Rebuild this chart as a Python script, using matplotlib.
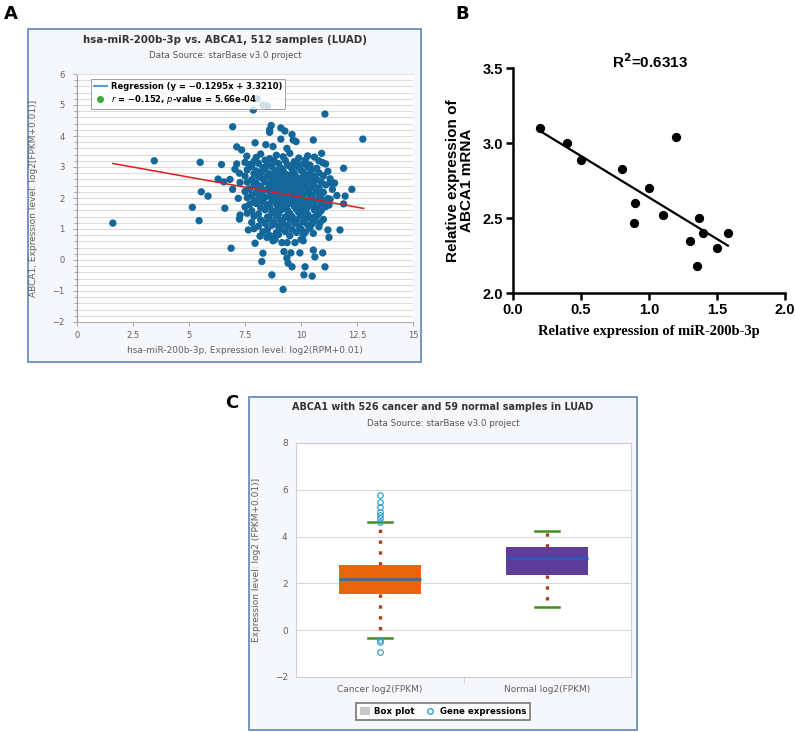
import numpy as np
import matplotlib
matplotlib.use("Agg")
import matplotlib.pyplot as plt
from matplotlib.lines import Line2D
from matplotlib.patches import Rectangle, Patch
from matplotlib.ticker import MultipleLocator, FormatStrFormatter

# ---- panel A: starBase scatter ----
a_points = [
    # sparse / outlying samples
    (1.6, 1.19), (3.45, 3.2), (5.5, 3.15), (5.15, 1.7), (5.55, 2.2), (5.85, 2.06),
    (5.45, 1.27), (6.45, 3.08), (6.3, 2.61), (6.55, 2.52), (6.6, 1.67), (6.88, 0.38),
    (6.95, 4.3), (6.83, 2.6), (6.95, 2.28), (7.13, 3.65), (7.13, 3.1), (7.25, 2.8),
    (7.05, 2.93), (7.28, 2.5), (7.2, 1.99), (7.28, 1.45), (7.25, 1.32), (7.35, 3.55),
    (7.5, 3.15), (7.58, 3.35), (7.65, 0.97), (7.87, 4.84), (8.05, 5.2), (8.3, 5.0),
    (8.5, 4.97), (7.95, 3.78), (8.43, 3.72), (8.6, 4.12), (8.67, 4.34), (8.6, 4.2),
    (8.75, 3.66), (9.1, 4.26), (9.28, 4.16), (9.1, 3.9), (9.6, 4.05), (9.65, 3.87),
    (9.78, 3.82), (9.37, 3.6), (10.55, 3.87), (11.07, 4.71), (12.76, 3.9), (10.92, 3.44),
    (10.97, 3.14), (11.1, 3.1), (11.9, 2.96), (12.27, 2.28), (11.97, 2.06), (11.9, 1.81),
    (11.3, 1.96), (11.25, 1.77), (11.3, 2.49), (11.74, 0.97), (11.2, 0.97), (11.25, 0.73),
    (11.07, -0.22), (10.97, 0.23), (10.55, 0.32), (10.62, 0.1), (10.5, -0.52), (10.13, -0.48),
    (10.18, -0.22), (9.95, 0.23), (9.6, -0.22), (9.55, 0.23), (9.37, 0.06), (9.42, -0.1),
    (9.24, 0.27), (9.2, -0.95), (8.7, -0.48), (8.25, -0.05), (8.3, 0.22), (7.95, 0.54),
    (8.17, 0.77), (8.48, 0.73), (8.7, 0.73), (8.75, 0.62), (8.84, 0.66), (9.15, 0.56),
    (9.38, 0.56), (9.73, 0.56), (10.0, 0.66), (10.1, 0.62), (10.55, 0.86), (10.85, 1.2),
    (10.62, 1.39), (10.77, 1.51),
    # dense core of the cloud
    (8.2, 3.42), (8.9, 3.38), (9.5, 3.44), (10.3, 3.36),
    (8.0, 3.31), (8.6, 3.27), (9.2, 3.33), (9.9, 3.29), (10.6, 3.32),
    (7.9, 3.18), (8.4, 3.22), (8.8, 3.19), (9.3, 3.21), (9.7, 3.17), (10.2, 3.23), (10.8, 3.2),
    (7.7, 3.08), (8.1, 3.12), (8.5, 3.09), (9.0, 3.11), (9.4, 3.07), (9.8, 3.13), (10.1, 3.1), (10.4, 3.06),
    (7.8, 3.02), (8.3, 2.98), (8.7, 3.01), (9.1, 2.97), (9.5, 3.03), (9.9, 2.99), (10.3, 3.0), (10.7, 2.96),
    (7.6, 2.91), (8.0, 2.87), (8.4, 2.92), (8.9, 2.88), (9.2, 2.9), (9.6, 2.93), (10.0, 2.89), (10.5, 2.91), (11.2, 2.86),
    (7.9, 2.79), (8.2, 2.82), (8.6, 2.78), (9.0, 2.81), (9.3, 2.77), (9.7, 2.8), (10.1, 2.83), (10.4, 2.79), (10.8, 2.81),
    (7.5, 2.71), (8.1, 2.68), (8.5, 2.72), (8.8, 2.69), (9.1, 2.7), (9.4, 2.73), (9.8, 2.67), (10.2, 2.71), (10.6, 2.69), (11.0, 2.72),
    (7.8, 2.59), (8.3, 2.62), (8.7, 2.58), (9.0, 2.61), (9.3, 2.6), (9.6, 2.63), (9.9, 2.57), (10.3, 2.61), (10.7, 2.59), (11.3, 2.62),
    (7.6, 2.51), (8.0, 2.48), (8.4, 2.52), (8.9, 2.49), (9.2, 2.5), (9.5, 2.53), (9.8, 2.47), (10.1, 2.51), (10.5, 2.49), (10.9, 2.52), (11.5, 2.48),
    (7.9, 2.41), (8.2, 2.38), (8.6, 2.42), (9.0, 2.39), (9.3, 2.4), (9.6, 2.43), (9.9, 2.37), (10.2, 2.41), (10.6, 2.39), (11.1, 2.42),
    (7.7, 2.29), (8.1, 2.32), (8.5, 2.28), (8.8, 2.31), (9.1, 2.3), (9.4, 2.33), (9.7, 2.27), (10.0, 2.31), (10.4, 2.29), (10.8, 2.32), (11.4, 2.28),
    (7.5, 2.21), (8.0, 2.18), (8.3, 2.22), (8.7, 2.19), (9.0, 2.2), (9.3, 2.23), (9.6, 2.17), (9.9, 2.21), (10.3, 2.19), (10.7, 2.22), (11.0, 2.18),
    (7.8, 2.09), (8.2, 2.12), (8.6, 2.08), (8.9, 2.11), (9.2, 2.1), (9.5, 2.13), (9.8, 2.07), (10.1, 2.11), (10.5, 2.09), (10.9, 2.12), (11.6, 2.08),
    (7.6, 2.01), (8.1, 1.98), (8.4, 2.02), (8.8, 1.99), (9.1, 2.0), (9.4, 2.03), (9.7, 1.97), (10.0, 2.01), (10.4, 1.99), (10.8, 2.02), (11.2, 1.98),
    (7.9, 1.91), (8.3, 1.88), (8.7, 1.92), (9.0, 1.89), (9.3, 1.9), (9.6, 1.93), (9.9, 1.87), (10.2, 1.91), (10.6, 1.89), (11.0, 1.92),
    (7.7, 1.79), (8.0, 1.82), (8.5, 1.78), (8.9, 1.81), (9.2, 1.8), (9.5, 1.83), (9.8, 1.77), (10.1, 1.81), (10.5, 1.79), (10.9, 1.82),
    (7.5, 1.71), (8.2, 1.68), (8.6, 1.72), (9.0, 1.69), (9.3, 1.7), (9.7, 1.73), (10.0, 1.67), (10.3, 1.71), (10.7, 1.69), (11.1, 1.72),
    (7.8, 1.59), (8.4, 1.62), (8.8, 1.58), (9.1, 1.61), (9.4, 1.6), (9.8, 1.63), (10.2, 1.57), (10.6, 1.61), (10.9, 1.59),
    (7.6, 1.51), (8.1, 1.48), (8.7, 1.52), (9.0, 1.49), (9.5, 1.5), (9.9, 1.53), (10.3, 1.47), (10.8, 1.51),
    (7.9, 1.41), (8.5, 1.38), (8.9, 1.42), (9.3, 1.39), (9.6, 1.4), (10.0, 1.43), (10.4, 1.37), (10.7, 1.41),
    (8.2, 1.29), (8.6, 1.32), (9.1, 1.28), (9.5, 1.31), (9.8, 1.3), (10.2, 1.33), (10.6, 1.27), (11.0, 1.31),
    (7.8, 1.21), (8.4, 1.18), (8.8, 1.22), (9.2, 1.19), (9.7, 1.2), (10.1, 1.23), (10.5, 1.17),
    (8.1, 1.09), (8.7, 1.12), (9.0, 1.08), (9.4, 1.11), (9.9, 1.1), (10.3, 1.13), (10.8, 1.07),
    (7.9, 1.01), (8.5, 0.98), (9.1, 1.02), (9.6, 0.99), (10.0, 1.0), (10.4, 1.03),
    (8.3, 0.91), (8.9, 0.88), (9.3, 0.92), (9.8, 0.89), (10.2, 0.9),
    (8.6, 0.79), (9.0, 0.82), (9.5, 0.78), (10.1, 0.81),
    (9.15, 2.55), (9.45, 2.25), (9.65, 1.95), (9.35, 1.75), (9.75, 2.45), (9.55, 2.75),
    (9.85, 2.15), (9.25, 2.05), (9.05, 2.35), (9.95, 1.65), (10.15, 2.35), (10.05, 2.65),
    (8.95, 1.95), (8.75, 2.45), (10.25, 1.85), (10.35, 2.15), (8.85, 2.85), (9.45, 1.45),
    (9.65, 3.05), (10.45, 2.55),
]
a_slope, a_icpt = -0.1295, 3.3210
a_line_x = [1.6, 12.8]

# ---- panel B: qPCR correlation ----
b_mir = [0.2, 0.4, 0.5, 0.8, 1.2, 1.0, 0.9, 0.89, 1.1, 1.37, 1.4, 1.3, 1.35, 1.5, 1.58]
b_abca1 = [3.1, 3.0, 2.89, 2.83, 3.04, 2.7, 2.6, 2.47, 2.52, 2.5, 2.4, 2.35, 2.18, 2.3, 2.4]

# ---- panel C: box plot summary ----
c_labels = ["Cancer log2(FPKM)", "Normal log2(FPKM)"]
c_q1 = [1.54, 2.36]
c_med = [2.17, 3.10]
c_q3 = [2.79, 3.54]
c_lo = [-0.32, 1.00]
c_hi = [4.62, 4.23]
c_fliers = [[4.64, 4.78, 4.92, 5.06, 5.28, 5.49, 5.78, -0.42, -0.49, -0.95], []]
c_box_colors = ["#e8650c", "#5e3c99"]
c_med_colors = ["#5a6580", "#2f55b5"]

W, H = 795, 732
fig = plt.figure(figsize=(W / 100, H / 100), dpi=100)


def rect(x0, y0, x1, y1):
    return [x0 / W, 1 - y1 / H, (x1 - x0) / W, (y1 - y0) / H]


def fx(x):
    return x / W


def fy(y):
    return 1 - y / H


def frame(x0, y0, x1, y1):
    l, b, w, h = rect(x0, y0, x1, y1)
    fig.patches.append(Rectangle((l, b), w, h, transform=fig.transFigure,
                                 facecolor="#f6f7fc", edgecolor="#6d8dbd", lw=1.3, zorder=-5))


grey = "#606060"

# ================= A =================
frame(28, 29, 421, 362)
ax = fig.add_axes(rect(77, 74, 413, 322))
ax.set_facecolor("white")
ax_x = [p[0] for p in a_points]
ax_y = [p[1] for p in a_points]
ax.scatter(ax_x, ax_y, s=28, color="#14679b", edgecolors="none", zorder=3)
lx = np.array(a_line_x)
ax.plot(lx, a_slope * lx + a_icpt, color="#e01b1b", lw=1.1, zorder=4)
ax.set_xlim(0, 15)
ax.set_ylim(-2, 6)
ax.xaxis.set_major_locator(MultipleLocator(2.5))
ax.xaxis.set_major_formatter(FormatStrFormatter("%g"))
ax.yaxis.set_major_locator(MultipleLocator(1))
ax.yaxis.set_minor_locator(MultipleLocator(0.2))
ax.grid(which="both", axis="y", color="#dcdcdc", lw=0.8, zorder=0)
ax.spines["right"].set_visible(False)
ax.spines["top"].set_color("#e2e2e2")
ax.spines["left"].set_color("#9a9a9a")
ax.spines["bottom"].set_color("#b0b0b0")
ax.tick_params(axis="both", labelsize=6, labelcolor=grey, color="#999999", length=3, width=0.6)
ax.tick_params(axis="y", which="minor", length=2, width=0.6, color="#999999")
ax.tick_params(axis="y", pad=6)
ax.set_xlabel("hsa-miR-200b-3p, Expression level: log2(RPM+0.01)", fontsize=6.5, color=grey, labelpad=4)
ax.set_ylabel("ABCA1, Expression level: log2[FPKM+0.01)]", fontsize=6.5, color=grey, labelpad=10)
handles = [Line2D([], [], color="#4f9fd8", lw=1.5),
           Line2D([], [], marker="o", ls="none", color="#3caa3c", ms=4)]
leg = ax.legend(handles, ["Regression (y = \u22120.1295x + 3.3210)",
                          "$r$ = \u22120.152, $p$-value = 5.66e-04"],
                loc="upper left", bbox_to_anchor=(0.03, 0.995),
                prop={"weight": "bold", "size": 6}, frameon=True, fancybox=False,
                borderpad=0.3, labelspacing=0.3, handlelength=1.6, handletextpad=0.5)
leg.get_frame().set_edgecolor("#888888")
leg.get_frame().set_linewidth(0.7)
leg.set_zorder(10)
fig.text(fx(225), fy(40), "hsa-miR-200b-3p vs. ABCA1, 512 samples (LUAD)", ha="center", va="center",
         fontsize=7.4, fontweight="bold", color="#333333")
fig.text(fx(225), fy(56), "Data Source: starBase v3.0 project", ha="center", va="center",
         fontsize=6.3, color="#555555")
fig.text(fx(4), fy(14), "A", fontsize=13, fontweight="bold", ha="left", va="center")

# ================= B =================
bx = fig.add_axes(rect(513, 68, 785, 293))
bx.scatter(b_mir, b_abca1, s=32, color="black", zorder=3, clip_on=False)
k, c = np.polyfit(b_mir, b_abca1, 1)
fit_x = np.array([min(b_mir), max(b_mir)])
bx.plot(fit_x, k * fit_x + c, color="black", lw=1.6)
bx.set_xlim(0, 2)
bx.set_ylim(2, 3.5)
bx.xaxis.set_major_locator(MultipleLocator(0.5))
bx.yaxis.set_major_locator(MultipleLocator(0.5))
bx.xaxis.set_major_formatter(FormatStrFormatter("%.1f"))
bx.yaxis.set_major_formatter(FormatStrFormatter("%.1f"))
for s in ["top", "right"]:
    bx.spines[s].set_visible(False)
for s in ["left", "bottom"]:
    bx.spines[s].set_linewidth(1.8)
bx.tick_params(width=1.8, length=5, labelsize=10.5, pad=2)
for t in bx.get_xticklabels() + bx.get_yticklabels():
    t.set_fontweight("bold")
    t.set_family("Liberation Sans")
bx.set_ylabel("Relative expression of\nABCA1 mRNA", fontsize=11, fontweight="bold",
              family="Liberation Sans", labelpad=6, linespacing=1.0)
bx.set_xlabel("Relative expression of miR-200b-3p", fontsize=10.5, fontweight="bold",
              family="Liberation Serif", labelpad=6)
fig.text(fx(650), fy(62), "R$^\\mathbf{2}$=0.6313", ha="center", va="center", fontsize=11,
         fontweight="bold", family="Liberation Sans")
fig.text(fx(455), fy(14), "B", fontsize=13, fontweight="bold", ha="left", va="center")

# ================= C =================
frame(249, 397, 637, 730)
cx = fig.add_axes(rect(296, 443, 631, 677))
cx.set_facecolor("white")
stats = []
for i in range(2):
    stats.append(dict(label=c_labels[i], q1=c_q1[i], med=c_med[i], q3=c_q3[i],
                      whislo=c_lo[i], whishi=c_hi[i], fliers=c_fliers[i]))
bp = cx.bxp(stats, positions=[0, 1], widths=0.49, capwidths=0.145, patch_artist=True,
            showfliers=True,
            whiskerprops=dict(color="#a4401c", lw=2.4, linestyle=(0, (1, 2.25)),
                              dash_capstyle="butt"),
            capprops=dict(color="#3f8f20", lw=1.8),
            flierprops=dict(marker="o", mfc="none", mec="#3a9fd4", ms=4, mew=0.9),
            medianprops=dict(lw=2.2),
            boxprops=dict(lw=0))
for i, b in enumerate(bp["boxes"]):
    b.set_facecolor(c_box_colors[i])
    b.set_edgecolor(c_box_colors[i])
for i, m in enumerate(bp["medians"]):
    m.set_color(c_med_colors[i])
for w in bp["whiskers"]:
    w.set_zorder(1.5)
cx.set_xlim(-0.5, 1.5)
cx.set_ylim(-2, 8)
cx.yaxis.set_major_locator(MultipleLocator(2))
cx.grid(axis="y", color="#d8d8d8", lw=0.8, zorder=0)
cx.set_axisbelow(True)
for s in cx.spines.values():
    s.set_color("#cfcfcf")
cx.tick_params(axis="both", length=0, labelsize=6.5, labelcolor=grey, pad=6)
cx.set_xticks([0.5], minor=True)
cx.tick_params(axis="x", which="minor", length=4, color="#cccccc")
cx.set_ylabel("Expression level: log2 (FPKM+0.01)]", fontsize=6.5, color=grey, labelpad=10)
fig.text(fx(443), fy(407), "ABCA1 with 526 cancer and 59 normal samples in LUAD", ha="center",
         va="center", fontsize=6.9, fontweight="bold", color="#333333")
fig.text(fx(443), fy(424), "Data Source: starBase v3.0 project", ha="center", va="center",
         fontsize=6.3, color="#555555")
leg_handles = [Patch(facecolor="#c8c8c8", edgecolor="none"),
               Line2D([], [], marker="o", ls="none", mfc="none", mec="#3a9fd4", ms=4)]
lg = fig.legend(leg_handles, ["Box plot", "Gene expressions"], loc="center",
                bbox_to_anchor=(fx(443), fy(711.5)), ncol=2, frameon=True, fancybox=False,
                prop={"weight": "bold", "size": 6.2}, borderpad=0.45, handlelength=1.1,
                handleheight=1.0, columnspacing=1.3, handletextpad=0.5)
lg.get_frame().set_edgecolor("#555555")
lg.get_frame().set_linewidth(1.2)
fig.text(fx(225), fy(403), "C", fontsize=13, fontweight="bold", ha="left", va="center")

fig.savefig("out.png", dpi=100)
